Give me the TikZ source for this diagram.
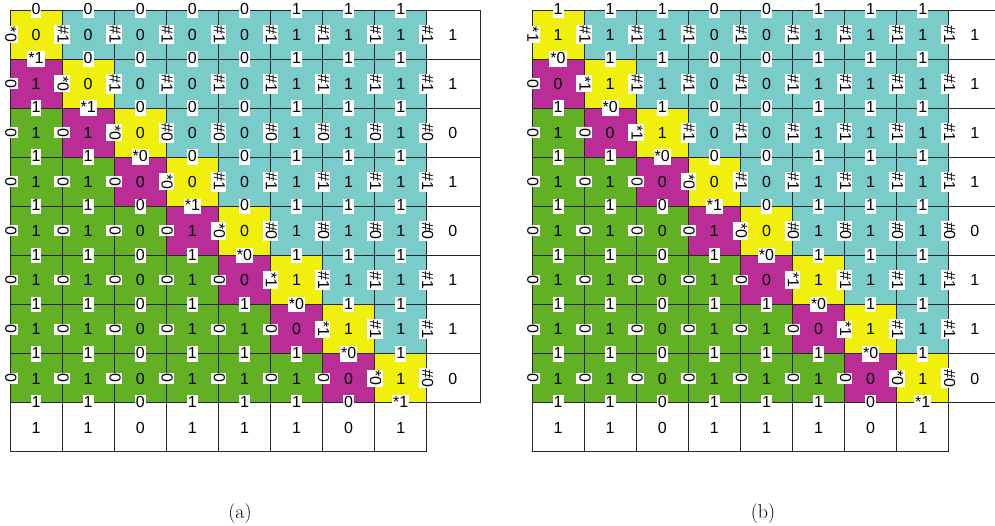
\documentclass[tikz,border=0pt]{standalone}
\usepackage{fontspec}
\newfontfamily\labfont{Liberation Sans}
\definecolor{yellowT}{RGB}{240,240,12}
\definecolor{cyanT}{RGB}{122,204,200}
\definecolor{magentaT}{RGB}{186,44,150}
\definecolor{greenT}{RGB}{98,176,36}
\definecolor{lineT}{RGB}{40,40,40}
\newcommand\lf{\labfont\fontsize{16}{18}\selectfont}
\def\W{52.1}
\def\H{49.1}
\tikzset{
  gridline/.style={draw=lineT, line width=0.9pt},
  lab/.style={fill=white, inner xsep=1pt, inner ysep=0.8pt, text height=11.6pt, text depth=2.4pt, font=\lf},
  val/.style={inner sep=0pt, text height=11.5pt, text depth=0pt, font=\lf},
  captext/.style={inner sep=0pt, font=\fontsize{20}{24}\selectfont}
}
% #1 prefix, #2 ox, #3 x, #4 s, #5 t, #6 c, #7 z, #8 right end of lines
\newcommand\drawpanel[8]{%
  \foreach \i in {1,...,8}{\foreach \j in {1,...,8}{
    \pgfmathtruncatemacro\dif{\i-\j}
    \ifnum\dif<0 \def\col{cyanT}\else\ifnum\dif=0 \def\col{yellowT}\else\ifnum\dif=1 \def\col{magentaT}\else\def\col{greenT}\fi\fi\fi
    \fill[\col] ({#2+(\j-1)*\W},{10+(\i-1)*\H}) rectangle ++(\W,\H);
  }}
  \foreach \m in {0,...,8}{
    \draw[gridline] ({#2+\m*\W},10) -- ({#2+\m*\W},{10+9*\H});
  }
  \foreach \k in {0,...,8}{
    \draw[gridline] ({#2},{10+\k*\H}) -- ({#8},{10+\k*\H});
  }
  \draw[gridline] ({#8},10) -- ({#8},{10+8*\H});
  \draw[gridline] ({#2},{10+9*\H}) -- ({#2+8*\W},{10+9*\H});
  % centre values
  \foreach \i in {1,...,8}{\foreach \j in {1,...,8}{
    \pgfmathtruncatemacro\dif{\i-\j}
    \ifnum\dif<1 \pgfmathtruncatemacro\cv{{#3}[\j-1]}\else\ifnum\dif=1 \pgfmathtruncatemacro\cv{{#4}[\j-1]}\else\pgfmathtruncatemacro\cv{{#7}[\j-1]}\fi\fi
    \node[val] (#1c\i-\j) at ({#2+(\j-0.5)*\W},{10+(\i-0.5)*\H}) {\cv};
  }}
  % right column and bottom row
  \foreach \i in {1,...,8}{
    \pgfmathtruncatemacro\cc{{#6}[\i-1]}
    \node[val] (#1r\i) at ({#2+8*\W+26},{10+(\i-0.5)*\H}) {\cc};
    \pgfmathtruncatemacro\zv{{#7}[\i-1]}
    \node[val] (#1b\i) at ({#2+(\i-0.5)*\W},{10+8.5*\H}) {\zv};
  }
  % labels on horizontal lines
  \foreach \k in {0,...,8}{\foreach \j in {1,...,8}{
    \ifnum\j>\k \pgfmathtruncatemacro\cv{{#3}[\j-1]}\def\txt{\cv}%
    \else\ifnum\j=\k \pgfmathtruncatemacro\cv{{#4}[\j-1]}\def\txt{*\cv}%
    \else\pgfmathtruncatemacro\cv{{#7}[\j-1]}\def\txt{\cv}\fi\fi
    \node[lab] (#1h\k-\j) at ({#2+(\j-0.5)*\W},{10+\k*\H}) {\txt};
  }}
  % labels on vertical lines
  \foreach \i in {1,...,8}{\foreach \m in {0,...,8}{
    \pgfmathtruncatemacro\cc{{#6}[\i-1]}
    \pgfmathtruncatemacro\jj{\m+1}
    \ifnum\jj<\i \def\txt{0}%
    \else\ifnum\jj=\i \pgfmathtruncatemacro\tv{{#5}[\i-1]}\def\txt{*\tv}%
    \else\def\txt{\#\cc}\fi\fi
    \node[lab,rotate=-90] (#1v\i-\m) at ({#2+\m*\W},{10+(\i-0.5)*\H}) {\txt};
  }}
}
\begin{document}
\begin{tikzpicture}[x=1pt,y=-1pt]
\useasboundingbox (0,0) rectangle (995,526);
\fill[white] (0,0) rectangle (995,526);
\drawpanel{a}{10}{0,0,0,0,0,1,1,1}{1,1,0,1,0,0,0,1}{0,0,0,0,0,1,1,0}{1,1,0,1,0,1,1,0}{1,1,0,1,1,1,0,1}{480}
\drawpanel{b}{532}{1,1,1,0,0,1,1,1}{0,0,0,1,0,0,0,1}{1,1,1,0,0,1,1,0}{1,1,1,1,0,1,1,0}{1,1,0,1,1,1,0,1}{1002}
\node[captext] (capa) at (240,514) {(a)};
\node[captext] (capb) at (763,514) {(b)};
\end{tikzpicture}
\end{document}
